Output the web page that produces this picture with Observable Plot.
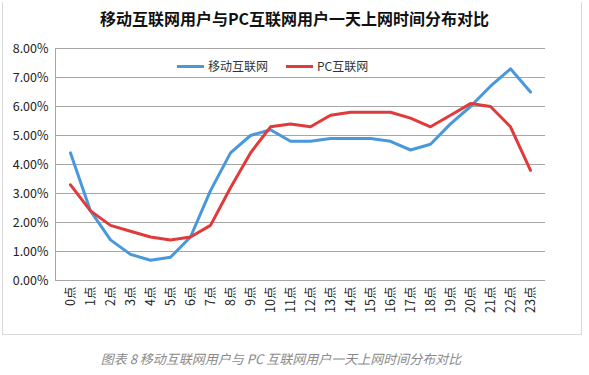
<!DOCTYPE html>
<html><head><meta charset="utf-8">
<script src="https://cdn.jsdelivr.net/npm/d3@7"></script>
<script src="https://cdn.jsdelivr.net/npm/@observablehq/plot@0.6"></script>
<style>
body{margin:0;background:#fff;font-family:"Noto Sans CJK SC","Noto Sans",sans-serif;}
#wrap{position:relative;width:589px;height:375px;overflow:hidden;}
#box{position:absolute;left:2px;top:2px;width:580px;height:333px;border:1px solid #d9d9d9;border-top:none;box-sizing:border-box;}
#title{position:absolute;left:0;top:7px;width:589px;text-align:center;font-size:16px;font-weight:bold;color:#111;line-height:22px;}
#chart{position:absolute;left:0;top:30px;}
#legend{position:absolute;top:57px;left:177px;font-size:12px;color:#333;display:flex;align-items:center;line-height:18px;}
#legend .sw{display:inline-block;width:27px;height:3px;margin-right:4px;}
#caption{position:absolute;left:0;top:349px;width:562px;text-align:center;font-size:13px;font-style:italic;color:#8a8a8a;}
</style></head>
<body>
<div id="wrap">
<div id="box"></div>
<div id="title"></div>
<div id="chart"></div>
<div id="legend"></div>
<div id="caption"></div>
</div>
<script>
const title = "移动互联网用户与PC互联网用户一天上网时间分布对比";
const caption = "图表 8 移动互联网用户与 PC 互联网用户一天上网时间分布对比";
const hours = ["0点","1点","2点","3点","4点","5点","6点","7点","8点","9点","10点","11点","12点","13点","14点","15点","16点","17点","18点","19点","20点","21点","22点","23点"];
const seriesNames = ["移动互联网","PC互联网"];
const mobile = [4.4,2.4,1.4,0.9,0.7,0.8,1.5,3.1,4.4,5.0,5.2,4.8,4.8,4.9,4.9,4.9,4.8,4.5,4.7,5.4,6.0,6.7,7.3,6.5];
const pc = [3.3,2.4,1.9,1.7,1.5,1.4,1.5,1.9,3.2,4.4,5.3,5.4,5.3,5.7,5.8,5.8,5.8,5.6,5.3,5.7,6.1,6.0,5.3,3.8];
const yTicks = [0,1,2,3,4,5,6,7,8];
const colors = ["#4a97dc","#e03a3a"];

document.getElementById("title").textContent = title;
document.getElementById("caption").textContent = caption;

const data = [];
hours.forEach((h,i)=>{
  data.push({hour:h, value:mobile[i]/100, series:seriesNames[0]});
  data.push({hour:h, value:pc[i]/100, series:seriesNames[1]});
});

const chart = Plot.plot({
  width:589, height:305,
  marginLeft:55, marginRight:44, marginTop:18, marginBottom:55,
  style:{fontFamily:'"Noto Sans CJK SC","Noto Sans",sans-serif', fontSize:"12px", color:"#222", background:"transparent"},
  x:{type:"band", domain:hours, padding:0, label:null},
  y:{domain:[0,0.08], label:null},
  color:{domain:seriesNames, range:colors},
  marks:[
    Plot.ruleY(yTicks.map(d=>d/100), {stroke:"#a6a6a6", strokeWidth:1}),
    Plot.frame({anchor:"left", stroke:"#a6a6a6"}),
    Plot.axisY({ticks:yTicks.map(d=>d/100), tickFormat:d3.format(".2%"), tickSize:0, tickPadding:7, fontSize:12.5}),
    Plot.axisX({tickRotate:-90, tickSize:0, tickPadding:6, fontSize:12.5}),
    Plot.line(data, {x:"hour", y:"value", z:"series", stroke:"series", strokeWidth:3, curve:"linear"})
  ]
});
document.getElementById("chart").appendChild(chart);

const leg = document.getElementById("legend");
seriesNames.forEach((n,i)=>{
  const item = document.createElement("span");
  item.style.display="inline-flex"; item.style.alignItems="center";
  item.style.marginRight = i===0 ? "18px" : "0";
  item.innerHTML = `<span class="sw" style="background:${colors[i]}"></span>${n}`;
  leg.appendChild(item);
});
</script>
</body></html>
